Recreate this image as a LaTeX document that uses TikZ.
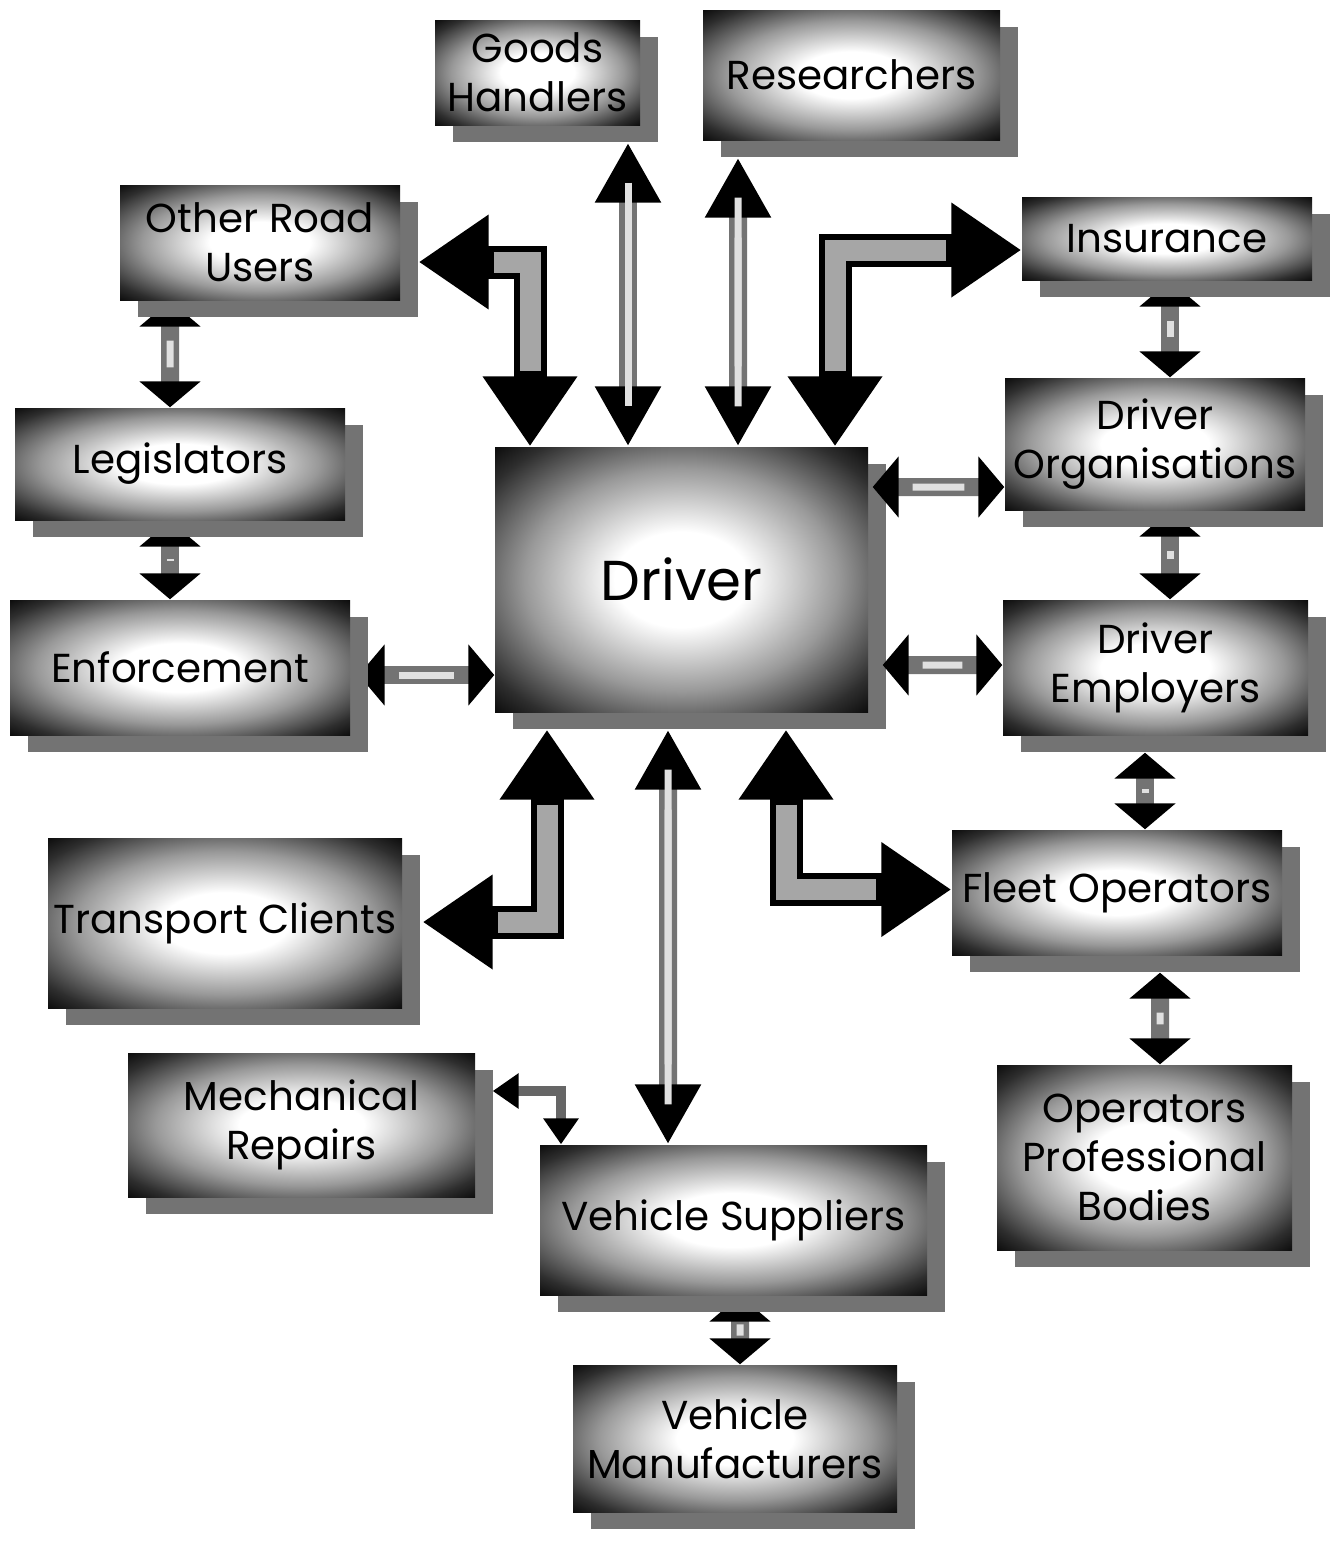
\documentclass[tikz,border=0pt]{standalone}
\usepackage{fontspec}
\setmainfont{Poppins}
\usetikzlibrary{arrows.meta,shadows,backgrounds}
% light centre, dark rim
\pgfdeclareradialshading{glow}{\pgfpoint{0bp}{0bp}}{%
  color(0bp)=(white); color(9bp)=(white); color(21bp)=(black!40);
  color(31bp)=(black!82); color(37bp)=(black); color(75bp)=(black)}
\begin{document}
\begin{tikzpicture}
	\tikzset{
		% boxes
		unit/.style={rectangle, inner sep=0pt, align=center, shading=glow,
			font=\fontsize{11.5}{14}\selectfont,
			drop shadow={shadow xshift=1.8mm, shadow yshift=-1.7mm, fill=black!55, opacity=1}},
		% arrow heads
		mhead/.tip={Triangle[width=6mm,length=2.6mm,black]},
		lhead/.tip={Triangle[width=6.2mm,length=6mm,black]},
		fhead/.tip={Triangle[width=9mm,length=7mm,black]},
		shead/.tip={Triangle[width=3.4mm,length=2.6mm,black]},
		% connectors
		link/.style={mhead-mhead, line width=1.8mm, draw=black!55,
			postaction={draw=black!12, line width=0.7mm, -, shorten <=4mm, shorten >=4mm}},
		longlink/.style={link, lhead-lhead,
			postaction={draw=black!12, line width=0.7mm, -, shorten <=8mm, shorten >=8mm}},
		fatlink/.style={fhead-fhead, line width=3.3mm, draw=black, line join=miter,
			postaction={draw=black!35, line width=2.1mm, -, line join=miter, shorten <=7.5mm, shorten >=7.5mm}},
		thinlink/.style={shead-shead, line width=1mm, draw=black!60, line join=miter},
	}
	%
	\useasboundingbox (0,0) rectangle (13.31,-15.49);
	% the driver
	\node[unit, minimum width=3.73cm, minimum height=2.65cm, font=\fontsize{16}{18}\selectfont] (driver) at (6.815,-5.795) {Driver};
	% top row
	\node[unit, minimum width=2.05cm, minimum height=1.05cm] (goods) at (5.375,-0.725) {Goods\\Handlers};
	\node[unit, minimum width=2.97cm, minimum height=1.30cm] (research) at (8.515,-0.75) {Researchers};
	% left column
	\node[unit, minimum width=2.80cm, minimum height=1.15cm] (roads) at (2.60,-2.425) {Other Road\\Users};
	\node[unit, minimum width=3.30cm, minimum height=1.12cm] (legis) at (1.80,-4.64) {Legislators};
	\node[unit, minimum width=3.40cm, minimum height=1.35cm] (enforce) at (1.80,-6.675) {Enforcement};
	\node[unit, minimum width=3.54cm, minimum height=1.70cm] (tclient) at (2.25,-9.23) {Transport Clients};
	\node[unit, minimum width=3.47cm, minimum height=1.44cm] (mech) at (3.015,-11.25) {Mechanical\\Repairs};
	% right column
	\node[unit, minimum width=2.90cm, minimum height=0.83cm] (insur) at (11.67,-2.385) {Insurance};
	\node[unit, minimum width=3.00cm, minimum height=1.32cm] (dorg) at (11.55,-4.44) {Driver\\Organisations};
	\node[unit, minimum width=3.05cm, minimum height=1.35cm] (demp) at (11.555,-6.675) {Driver\\Employers};
	\node[unit, minimum width=3.30cm, minimum height=1.25cm] (fleet) at (11.17,-8.925) {Fleet Operators};
	\node[unit, minimum width=2.95cm, minimum height=1.85cm] (opbod) at (11.445,-11.575) {Operators\\Professional\\Bodies};
	% bottom
	\node[unit, minimum width=3.87cm, minimum height=1.50cm] (vsupp) at (7.335,-12.20) {Vehicle Suppliers};
	\node[unit, minimum width=3.24cm, minimum height=1.47cm] (vmanu) at (7.35,-14.385) {Vehicle\\Manufacturers};
	%
	\begin{scope}[on background layer]
	% straight links
	\draw[longlink] ([shift={(0.905,-0.17)}]goods.south) -- ([xshift=-0.535cm]driver.north);
	\draw[longlink] ([shift={(-1.135,-0.17)}]research.south) -- ([xshift=0.565cm]driver.north);
	\draw[link] ([xshift=-0.90cm]roads.south) -- ([xshift=-0.10cm]legis.north);
	\draw[link] ([xshift=-0.10cm]legis.south) -- ([xshift=-0.10cm]enforce.north);
	\draw[link] ([shift={(0.08,-0.075)}]enforce.east) -- ([yshift=-0.955cm]driver.west);
	\draw[link] ([xshift=0.03cm]insur.south) -- ([xshift=0.15cm]dorg.north);
	\draw[link] ([xshift=0.15cm]dorg.south) -- ([xshift=0.145cm]demp.north);
	\draw[link] ([shift={(-0.105,-0.17)}]demp.south) -- ([xshift=0.28cm]fleet.north);
	\draw[link] ([shift={(0.43,-0.17)}]fleet.south) -- ([xshift=0.155cm]opbod.north);
	\draw[longlink] ([shift={(-0.135,-0.17)}]driver.south) -- ([xshift=-0.655cm]vsupp.north);
	\draw[link] ([xshift=0.065cm]vsupp.south) -- ([xshift=0.05cm]vmanu.north);
	%
	% elbow links
	\draw[fatlink] ([shift={(0.18,-0.195)}]roads.east) -| ([xshift=-1.515cm]driver.north);
	\draw[fatlink] ([xshift=1.535cm]driver.north) |- ([yshift=-0.115cm]insur.west);
	\draw[fatlink] ([shift={(1.045,-0.17)}]driver.south) |- ([yshift=0.03cm]fleet.west);
	\draw[fatlink] ([shift={(-1.345,-0.17)}]driver.south) |- ([shift={(0.20,0.01)}]tclient.east);
	\draw[thinlink] ([shift={(0.17,0.34)}]mech.east) -| ([xshift=-1.725cm]vsupp.north);
	\end{scope}
	% links lying over the driver's shadow
	\draw[link] ([shift={(0.04,0.925)}]driver.east) -- ([yshift=-0.43cm]dorg.west);
	\draw[link] ([shift={(0.14,-0.855)}]driver.east) -- ([yshift=0.025cm]demp.west);
\end{tikzpicture}
\end{document}
